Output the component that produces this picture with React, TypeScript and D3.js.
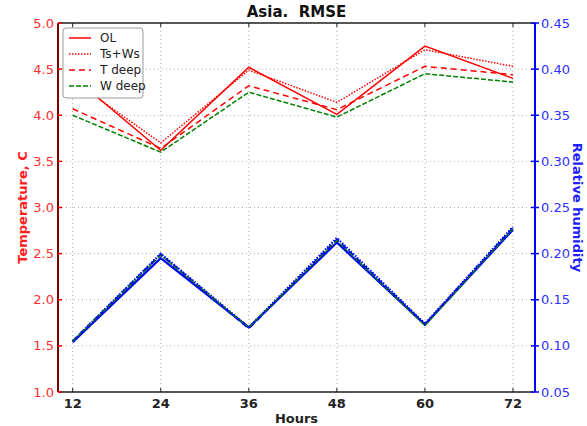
import React from "react";
import * as d3 from "d3";

const W = 587;
const H = 426;
const Margin = { top: 23, right: 52, bottom: 34, left: 58 };

const hours = [12, 24, 36, 48, 60, 72];
const tempTicks = [1.0, 1.5, 2.0, 2.5, 3.0, 3.5, 4.0, 4.5, 5.0];
const humTicks = [0.05, 0.1, 0.15, 0.2, 0.25, 0.3, 0.35, 0.4, 0.45];

// temperature RMSE (left axis)
const tOL = [4.42, 3.62, 4.52, 4.01, 4.75, 4.4];
const tTsWs = [4.38, 3.7, 4.49, 4.14, 4.71, 4.53];
const tTdeep = [4.07, 3.64, 4.32, 4.06, 4.53, 4.44];
const tWdeep = [4.0, 3.6, 4.25, 3.98, 4.45, 4.36];

// relative humidity RMSE (right axis)
const hOL = [0.104, 0.195, 0.12, 0.212, 0.123, 0.226];
const hTsWs = [0.105, 0.2, 0.12, 0.217, 0.124, 0.229];
const hTdeep = [0.105, 0.199, 0.119, 0.215, 0.123, 0.228];
const hWdeep = [0.105, 0.198, 0.12, 0.214, 0.122, 0.227];

const legendItems = [
  { label: "OL", color: "#ff0000", dash: "none" },
  { label: "Ts+Ws", color: "#ff0000", dash: "1.5,1.5" },
  { label: "T deep", color: "#ff0000", dash: "6,4" },
  { label: "W deep", color: "#008000", dash: "5,2" },
];

const App = () => {
  const x0 = Margin.left;
  const x1 = W - Margin.right;
  const y0 = Margin.top;
  const y1 = H - Margin.bottom;

  const xScale = d3.scaleLinear().domain([10, 75]).range([x0, x1]);
  const yT = d3.scaleLinear().domain([1, 5]).range([y1, y0]);
  const yH = d3.scaleLinear().domain([0.05, 0.45]).range([y1, y0]);

  const lineT = d3
    .line<number>()
    .x((_, i) => xScale(hours[i]))
    .y((d) => yT(d));
  const lineH = d3
    .line<number>()
    .x((_, i) => xScale(hours[i]))
    .y((d) => yH(d));

  const font = "DejaVu Sans, sans-serif";

  return (
    <svg width={W} height={H} style={{ position: "absolute", left: 0, top: 0 }}>
      <rect width={W} height={H} fill="#fff" />
      {/* grid */}
      {hours.map((h) => (
        <line
          key={"gx" + h}
          x1={xScale(h)}
          x2={xScale(h)}
          y1={y0}
          y2={y1}
          stroke="#b0b0b0"
          strokeDasharray="1,3"
        />
      ))}
      {tempTicks.map((t) => (
        <line
          key={"gy" + t}
          x1={x0}
          x2={x1}
          y1={yT(t)}
          y2={yT(t)}
          stroke="#b0b0b0"
          strokeDasharray="1,3"
        />
      ))}

      {/* temperature lines */}
      <path d={lineT(tOL)!} fill="none" stroke="#ff0000" strokeWidth={1.5} />
      <path d={lineT(tTsWs)!} fill="none" stroke="#ff0000" strokeWidth={1.5} strokeDasharray="1.5,1.5" />
      <path d={lineT(tTdeep)!} fill="none" stroke="#ff0000" strokeWidth={1.5} strokeDasharray="6,4" />
      <path d={lineT(tWdeep)!} fill="none" stroke="#008000" strokeWidth={1.5} strokeDasharray="5,2" />

      {/* humidity lines */}
      <path d={lineH(hOL)!} fill="none" stroke="#0000ff" strokeWidth={2.2} />
      <path d={lineH(hTsWs)!} fill="none" stroke="#0000ff" strokeWidth={2.2} strokeDasharray="1.5,1.5" />
      <path d={lineH(hTdeep)!} fill="none" stroke="#0000ff" strokeWidth={2.2} strokeDasharray="6,4" />
      <path d={lineH(hWdeep)!} fill="none" stroke="#008000" strokeWidth={1.2} strokeDasharray="5,2" />

      {/* frame */}
      <line x1={x0} x2={x1} y1={y0} y2={y0} stroke="#222" strokeWidth={1.5} />
      <line x1={x0} x2={x1} y1={y1} y2={y1} stroke="#222" strokeWidth={1.5} />
      <line x1={x0} x2={x0} y1={y0} y2={y1} stroke="#800000" strokeWidth={2} />
      <line x1={x1} x2={x1} y1={y0} y2={y1} stroke="#0000ff" strokeWidth={2} />

      {/* x ticks */}
      {hours.map((h) => (
        <g key={"xt" + h}>
          <line x1={xScale(h)} x2={xScale(h)} y1={y1} y2={y1 - 4} stroke="#222" />
          <line x1={xScale(h)} x2={xScale(h)} y1={y0} y2={y0 + 4} stroke="#222" />
          <text
            x={xScale(h)}
            y={y1 + 16}
            textAnchor="middle"
            fontFamily={font}
            fontWeight="bold"
            fontSize={13}
            fill="#222"
          >
            {h}
          </text>
        </g>
      ))}

      {/* left ticks */}
      {tempTicks.map((t) => (
        <g key={"lt" + t}>
          <line x1={x0} x2={x0 + 4} y1={yT(t)} y2={yT(t)} stroke="#ff0000" strokeWidth={1.5} />
          <text
            x={x0 - 4}
            y={yT(t)}
            dy="0.35em"
            textAnchor="end"
            fontFamily={font}
            fontSize={13}
            fill="#ff3030"
          >
            {t.toFixed(1)}
          </text>
        </g>
      ))}

      {/* right ticks */}
      {humTicks.map((t) => (
        <g key={"rt" + t}>
          <line x1={x1} x2={x1 - 4} y1={yH(t)} y2={yH(t)} stroke="#0000ff" strokeWidth={1.5} />
          <line x1={x1} x2={x1 + 4} y1={yH(t)} y2={yH(t)} stroke="#0000ff" strokeWidth={1.5} />
          <text
            x={x1 + 6}
            y={yH(t)}
            dy="0.35em"
            textAnchor="start"
            fontFamily={font}
            fontSize={13}
            fill="#3030ff"
          >
            {t.toFixed(2)}
          </text>
        </g>
      ))}

      {/* axis labels */}
      <text
        transform={`translate(22, ${(y0 + y1) / 2}) rotate(-90)`}
        textAnchor="middle"
        dy="0.35em"
        fontFamily={font}
        fontWeight="bold"
        fontSize={13}
        fill="#ff2020"
      >
        Temperature, C
      </text>
      <text
        transform={`translate(578, ${(y0 + y1) / 2}) rotate(90)`}
        textAnchor="middle"
        dy="0.35em"
        fontFamily={font}
        fontWeight="bold"
        fontSize={13}
        fill="#2020ff"
      >
        Relative humidity
      </text>
      <text
        x={(x0 + x1) / 2}
        y={y1 + 31}
        textAnchor="middle"
        fontFamily={font}
        fontWeight="bold"
        fontSize={13}
        fill="#222"
      >
        Hours
      </text>
      <text
        x={(x0 + x1) / 2}
        y={17}
        textAnchor="middle"
        fontFamily={font}
        fontWeight="bold"
        fontSize={15}
        fill="#111"
        style={{ whiteSpace: "pre" }}
      >
        {"Asia.  RMSE"}
      </text>

      {/* legend */}
      <g transform={`translate(${x0 + 5}, ${y0 + 5})`}>
        <rect width={80} height={70} rx={3} fill="#fff" stroke="#999" />
        {legendItems.map((item, i) => (
          <g key={item.label} transform={`translate(0, ${10 + i * 16})`}>
            <line
              x1={6}
              x2={28}
              y1={0}
              y2={0}
              stroke={item.color}
              strokeWidth={1.5}
              strokeDasharray={item.dash}
            />
            <text x={37} y={0} dy="0.35em" fontFamily={font} fontSize={12} fill="#222">
              {item.label}
            </text>
          </g>
        ))}
      </g>
    </svg>
  );
};

export default App;
